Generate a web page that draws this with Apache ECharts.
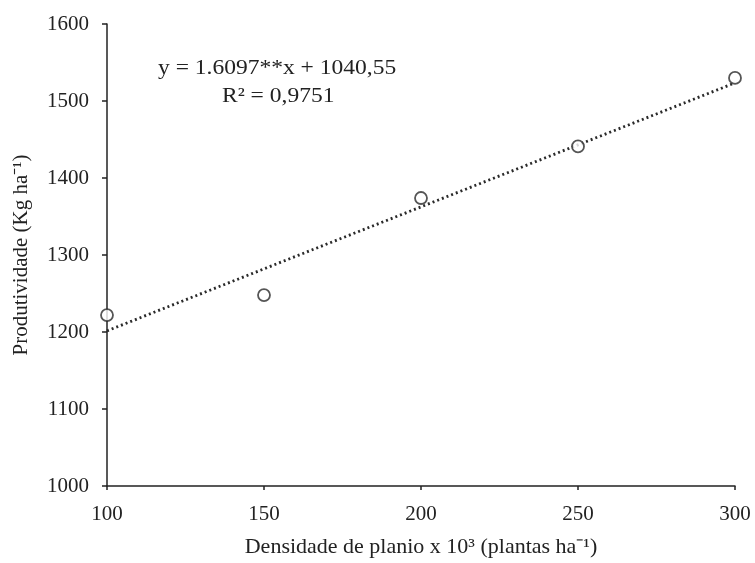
<!DOCTYPE html>
<html>
<head>
<meta charset="utf-8">
<script src="https://cdn.jsdelivr.net/npm/echarts@6/dist/echarts.min.js"></script>
<style>
  html, body { margin: 0; padding: 0; background: #fff; }
  #chart { width: 755px; height: 563px; }
</style>
</head>
<body>
<div id="chart"></div>
<script>
// observed points
var densidade = [100, 150, 200, 250, 300];
var produtividade = [1222, 1248, 1374, 1441, 1530];
// fitted line y = 1.6097x + 1040,55, at its two ends
var trendX = [100, 300];
var trendY = [1201.5, 1523.5];

var serif = 'Liberation Serif';
var ink = '#222';

var chart = echarts.init(document.getElementById('chart'));
chart.setOption({
    backgroundColor: '#fff',
    animation: false,
    grid: { left: 107, right: 20, top: 24, bottom: 74 },
    xAxis: {
        type: 'value',
        min: 100, max: 300, interval: 50,
        name: 'Densidade de planio x 10³ (plantas ha⁻¹)',
        nameLocation: 'middle',
        nameGap: 50,
        nameTextStyle: { fontFamily: serif, fontSize: 22, color: ink },
        axisLine: { lineStyle: { color: ink, width: 1.5 } },
        axisTick: { show: true, length: 4, lineStyle: { color: ink, width: 1.5 } },
        axisLabel: { fontFamily: serif, fontSize: 21, color: ink, margin: 18 },
        splitLine: { show: false }
    },
    yAxis: {
        type: 'value',
        min: 1000, max: 1600, interval: 100,
        name: 'Produtividade (Kg ha⁻¹)',
        nameLocation: 'middle',
        nameGap: 75,
        nameTextStyle: { fontFamily: serif, fontSize: 21, color: ink },
        axisLine: { show: true, lineStyle: { color: ink, width: 1.5 } },
        axisTick: { show: true, length: 5, lineStyle: { color: ink, width: 1.5 } },
        axisLabel: {
            fontFamily: serif, fontSize: 21, color: ink, margin: 18,
            formatter: function (v) { return String(v); }
        },
        splitLine: { show: false }
    },
    series: [{
        type: 'line',
        data: trendX.map(function (x, i) { return [x, trendY[i]]; }),
        symbol: 'none',
        lineStyle: { color: '#2a2a2a', width: 2.8, type: [2, 3] },
        z: 2
    }, {
        type: 'scatter',
        data: densidade.map(function (x, i) { return [x, produtividade[i]]; }),
        symbol: 'circle',
        symbolSize: 12,
        itemStyle: { color: '#fff', borderColor: '#2a2a2a', borderWidth: 1.8 },
        z: 3
    }],
    graphic: [{
        type: 'text',
        left: 158, top: 58,
        scaleX: 1.12,
        style: { text: 'y = 1.6097**x + 1040,55', font: '21px "Liberation Serif"', fill: ink }
    }, {
        type: 'text',
        left: 222, top: 86,
        scaleX: 1.12,
        style: { text: 'R² = 0,9751', font: '21px "Liberation Serif"', fill: ink }
    }]
});
</script>
</body>
</html>
